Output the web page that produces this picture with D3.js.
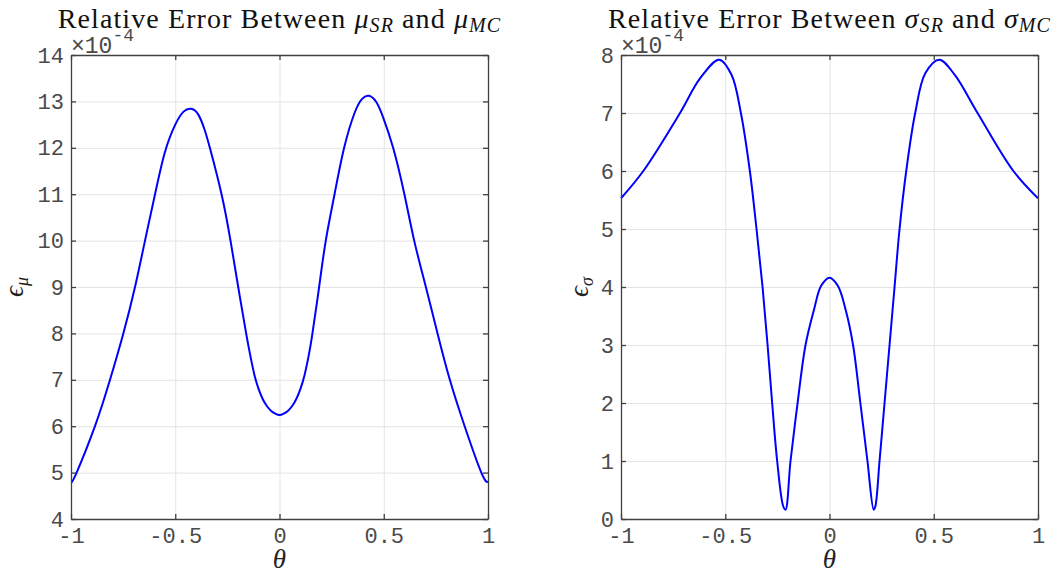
<!DOCTYPE html>
<html><head><meta charset="utf-8">
<script src="https://cdn.jsdelivr.net/npm/d3@7"></script>
<style>
body{margin:0;background:#fff;}
.tick text{font-family:"Liberation Mono","Courier New",monospace;font-size:22px;fill:#4a4a4a;}
</style></head><body>
<svg id="c" width="1058" height="574"></svg>
<script>
const thetaTicks = [-1, -0.5, 0, 0.5, 1];
const muTicks = [4, 5, 6, 7, 8, 9, 10, 11, 12, 13, 14];
const sigmaTicks = [0, 1, 2, 3, 4, 5, 6, 7, 8];

const muTheta = [-1, -0.973, -0.885, -0.813, -0.749, -0.693, -0.645, -0.597, -0.55, -0.5, -0.46, -0.425, -0.39, -0.36, -0.334, -0.278, -0.235, -0.198, -0.16, -0.14, -0.12, -0.10, -0.08, -0.06, -0.04, -0.02, 0, 0.02, 0.04, 0.06, 0.08, 0.10, 0.12, 0.14, 0.158, 0.19, 0.222, 0.264, 0.31, 0.36, 0.395, 0.428, 0.465, 0.5, 0.545, 0.599, 0.646, 0.702, 0.758, 0.817, 0.888, 0.968, 1];
const muValues = [4.78, 5, 6, 7, 8, 9, 10, 11, 11.9, 12.5, 12.78, 12.84, 12.72, 12.4, 12, 11, 10, 9, 8, 7.52, 7.1, 6.8, 6.58, 6.43, 6.33, 6.27, 6.24, 6.27, 6.33, 6.43, 6.58, 6.8, 7.1, 7.52, 8, 9, 10, 11, 12, 12.75, 13.05, 13.12, 12.98, 12.62, 12, 11, 10, 9, 8, 7, 6, 5, 4.80];

const sigmaTheta = [-1, -0.893, -0.717, -0.62, -0.529, -0.47, -0.425, -0.382, -0.350, -0.321, -0.297, -0.275, -0.251, -0.222, -0.211, -0.187, -0.153, -0.115, -0.075, -0.04, 0, 0.04, 0.078, 0.113, 0.148, 0.182, 0.212, 0.220, 0.240, 0.264, 0.288, 0.312, 0.336, 0.368, 0.411, 0.46, 0.527, 0.6, 0.710, 0.882, 1];
const sigmaValues = [5.53, 6, 7, 7.60, 7.92, 7.66, 7, 6, 5, 4, 3, 2, 1, 0.22, 0.16, 1, 2, 3, 3.6, 4.02, 4.16, 4.02, 3.6, 3, 2, 1, 0.16, 0.22, 1, 2, 3, 4, 5, 6, 7, 7.69, 7.92, 7.66, 7, 6, 5.53];

const svg = d3.select("#c");
const plotTop = 55, plotBottom = 519;

function panel(opt) {
  const x = d3.scaleLinear().domain([-1, 1]).range([opt.x0, opt.x1]);
  const y = d3.scaleLinear().domain(opt.yDomain).range([plotBottom, plotTop]);
  const g = svg.append("g");
  // grid
  g.append("g").attr("transform", `translate(0,${plotBottom})`)
    .call(d3.axisBottom(x).tickValues(thetaTicks).tickSize(-(plotBottom - plotTop)).tickFormat(""))
    .call(s => s.select(".domain").remove())
    .call(s => s.selectAll("line").attr("stroke", "#e3e3e3").attr("stroke-width", 1));
  g.append("g").attr("transform", `translate(${opt.x0},0)`)
    .call(d3.axisLeft(y).tickValues(opt.yTicks).tickSize(-(opt.x1 - opt.x0)).tickFormat(""))
    .call(s => s.select(".domain").remove())
    .call(s => s.selectAll("line").attr("stroke", "#e3e3e3").attr("stroke-width", 1));
  // curve
  const line = d3.line().x((d, i) => x(opt.xs[i])).y(d => y(d)).curve(opt.curve);
  g.append("path").datum(opt.ys).attr("d", line)
    .attr("fill", "none").attr("stroke", "#0000ff").attr("stroke-width", 2);
  // axes
  const style = s => {
    s.select(".domain").attr("stroke", "#404040").attr("stroke-width", 1.3);
    s.selectAll(".tick line").attr("stroke", "#404040").attr("stroke-width", 1.3);
  };
  g.append("g").attr("transform", `translate(0,${plotBottom})`)
    .call(d3.axisBottom(x).tickValues(thetaTicks).tickSize(-5).tickSizeOuter(0).tickFormat(d => String(d)))
    .call(style)
    .call(s => s.selectAll(".tick text").attr("dy", "0.71em").attr("y", 8));
  g.append("g").attr("transform", `translate(0,${plotTop})`)
    .call(d3.axisTop(x).tickValues(thetaTicks).tickSize(-5).tickSizeOuter(0).tickFormat(""))
    .call(style);
  g.append("g").attr("transform", `translate(${opt.x0},0)`)
    .call(d3.axisLeft(y).tickValues(opt.yTicks).tickSize(-5).tickSizeOuter(0).tickFormat(d => String(d)))
    .call(style)
    .call(s => s.selectAll(".tick text").attr("x", -7));
  g.append("g").attr("transform", `translate(${opt.x1},0)`)
    .call(d3.axisRight(y).tickValues(opt.yTicks).tickSize(-5).tickSizeOuter(0).tickFormat(""))
    .call(style);
  // exponent
  const ex = g.append("text").attr("x", opt.x0).attr("y", plotTop - 2)
    .attr("font-family", "Liberation Mono, monospace").attr("font-size", 23).attr("fill", "#4a4a4a")
    .text("\u00d710");
  const w = ex.node().getComputedTextLength();
  g.append("text").attr("x", opt.x0 + w).attr("y", plotTop - 14)
    .attr("font-family", "Liberation Mono, monospace").attr("font-size", 18).attr("fill", "#4a4a4a")
    .text("-4");
  // title
  const cx = (opt.x0 + opt.x1) / 2;
  const t = g.append("text").attr("x", cx).attr("y", 28).attr("text-anchor", "middle")
    .attr("font-family", "Liberation Serif, DejaVu Serif, serif").attr("font-size", 28)
    .attr("letter-spacing", 1.1).attr("fill", "#111");
  t.append("tspan").text("Relative Error Between ");
  t.append("tspan").attr("font-style", "italic").text(opt.sym);
  t.append("tspan").attr("font-style", "italic").attr("font-size", 20).attr("dy", 4).text("SR");
  t.append("tspan").attr("dy", -4).text(" and ");
  t.append("tspan").attr("font-style", "italic").text(opt.sym);
  t.append("tspan").attr("font-style", "italic").attr("font-size", 20).attr("dy", 4).text("MC");
  // x label
  g.append("text").attr("x", cx).attr("y", 568).attr("text-anchor", "middle")
    .attr("font-family", "Liberation Serif, DejaVu Serif, serif").attr("font-style", "italic")
    .attr("font-size", 27).attr("fill", "#222").text("\u03b8");
  // y label
  const yl = g.append("text").attr("transform", `translate(${opt.yl},${(plotTop + plotBottom) / 2}) rotate(-90)`)
    .attr("text-anchor", "middle")
    .attr("font-family", "Liberation Serif, DejaVu Serif, serif").attr("font-style", "italic")
    .attr("font-size", 27).attr("fill", "#222");
  yl.append("tspan").text("\u03f5");
  yl.append("tspan").attr("font-size", 18).attr("dy", 5).text(opt.sym);
}

panel({x0: 71, x1: 488, yDomain: [4, 14], yTicks: muTicks, xs: muTheta, ys: muValues, sym: "\u03bc", yl: 23, curve: d3.curveNatural});
panel({x0: 621, x1: 1038, yDomain: [0, 8], yTicks: sigmaTicks, xs: sigmaTheta, ys: sigmaValues, sym: "\u03c3", yl: 588, curve: d3.curveCatmullRom.alpha(0.5)});
</script>
</body></html>
